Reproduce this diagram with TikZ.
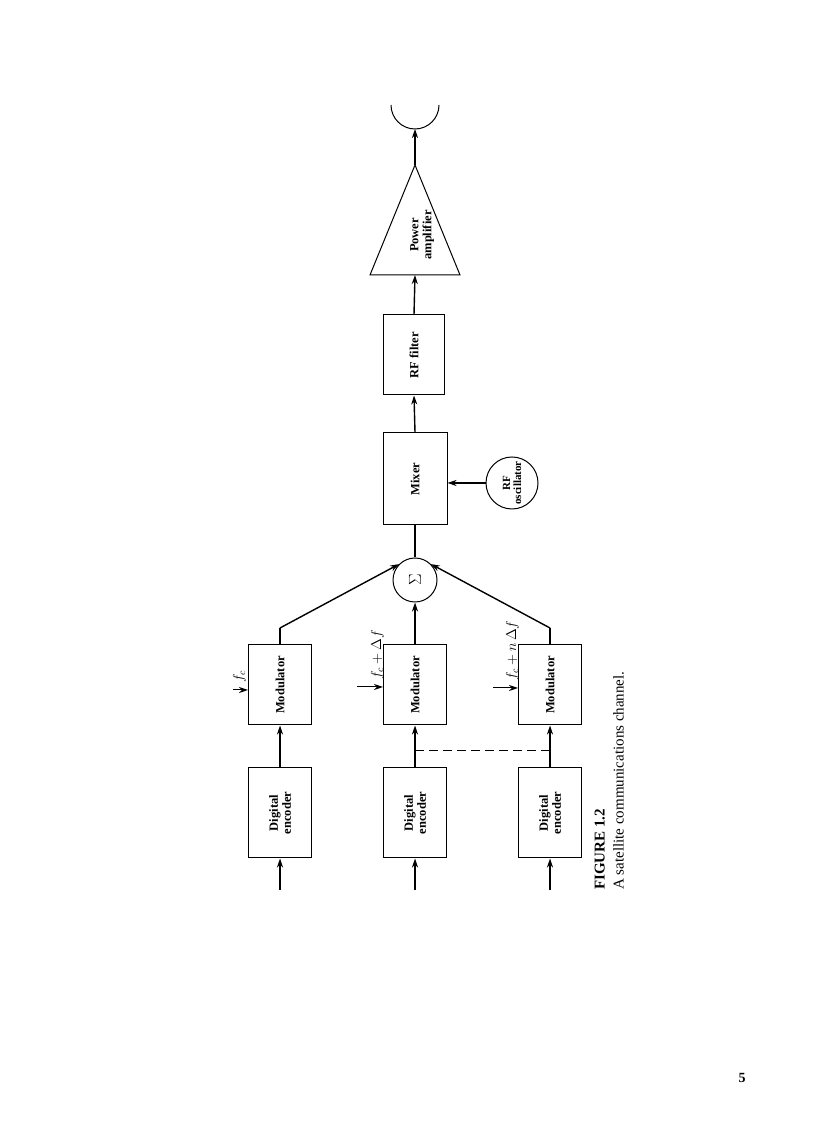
\documentclass[tikz,border=0pt]{standalone}
\usepackage{fontspec}
\setmainfont{Liberation Serif}
\usetikzlibrary{arrows.meta}
\begin{document}
\begin{tikzpicture}[x=1pt,y=1pt,
  blk/.style={draw,line width=1pt,rotate=90,font=\bfseries\fontsize{12.5}{13}\selectfont,align=center,inner sep=0pt},
  lbl/.style={rotate=90,font=\fontsize{14}{15}\selectfont,inner sep=0pt},
  con/.style={line width=1.4pt,-{Stealth[length=9pt,width=6pt]}},
  ln/.style={line width=1.4pt}]
\useasboundingbox (0,0) rectangle (816,1123);
% encoders
\foreach \n/\x in {1/280,2/415,3/550}{
  \node[blk,minimum width=90pt,minimum height=63pt] (enc\n) at (\x,310) {Digital\\encoder};
  \node[blk,minimum width=80pt,minimum height=63pt] (mod\n) at (\x,438) {Modulator};
  \coordinate (in\n) at (\x,233);
  \draw[con] (in\n) -- (enc\n.west);
  \draw[con] (enc\n.east) -- (mod\n.west);
}
\coordinate (f1) at (233,433);
\coordinate (f2) at (357,436);
\coordinate (f3) at (493,435);
\foreach \n in {1,2,3}{\draw[con,line width=1pt] (f\n) -- (f\n -| mod\n.north);}
\node[lbl,anchor=south west] at (246,440) {$f_c$};
\node[lbl,anchor=south west] at (384,443) {$f_c+\Delta f$};
\node[lbl,anchor=south west] at (519,442) {$f_c+n\,\Delta f$};
\coordinate (d2) at (415,373);
\coordinate (d3) at (550,373);
\draw[dashed,line width=0.8pt,dash pattern=on 9pt off 5pt] (d2) -- (d3);
% sum
\node[draw,circle,line width=1pt,minimum size=44pt,inner sep=0pt,rotate=90,font=\fontsize{16}{16}\selectfont] (sum) at (415,543) {$\Sigma$};
\coordinate (b1) at (280,495);
\coordinate (b3) at (550,495);
\draw[ln] (mod1.east) -- (b1);
\draw[con] (b1) -- (sum.north east);
\draw[ln] (mod3.east) -- (b3);
\draw[con] (b3) -- (sum.south east);
\draw[con] (mod2.east) -- (sum.west);
% mixer
\node[blk,minimum width=92pt,minimum height=64pt] (mix) at (415,644) {Mixer};
\draw[ln] (sum.east) -- (mix.west);
\node[draw,circle,line width=1pt,minimum size=52pt,inner sep=0pt,rotate=90,align=center,font=\bfseries\fontsize{11}{11}\selectfont] (osc) at (512,640) {RF\\oscillator};
\draw[con] (osc.north) -- (mix.south |- osc.north);
\node[blk,minimum width=80pt,minimum height=61pt] (filt) at (414,768) {RF filter};
\draw[con] (mix.east) -- (filt.west);
% amplifier
\coordinate (ab) at (415,848);
\coordinate (ap) at (415,958);
\draw[line width=1pt] (370,848) -- (460,848) -- (ap) -- cycle;
\node[blk,draw=none] (amp) at (422,888) {Power\\amplifier};
\draw[con] (filt.east) -- (ab);
\coordinate (ant) at (415,994);
\draw[con] (ap) -- (ant);
\draw[line width=1pt] (391,1018) arc (180:360:24);
% caption
\node[rotate=90,anchor=south west,inner sep=0pt,font=\bfseries\fontsize{15}{16}\selectfont] (cap1) at (605,233) {FIGURE 1.2};
\node[rotate=90,anchor=south west,inner sep=0pt,font=\fontsize{15}{16}\selectfont] (cap2) at (624,233) {A satellite communications channel.};
\node[font=\bfseries\fontsize{14}{14}\selectfont] (pg) at (742,45) {5};
\end{tikzpicture}
\end{document}
